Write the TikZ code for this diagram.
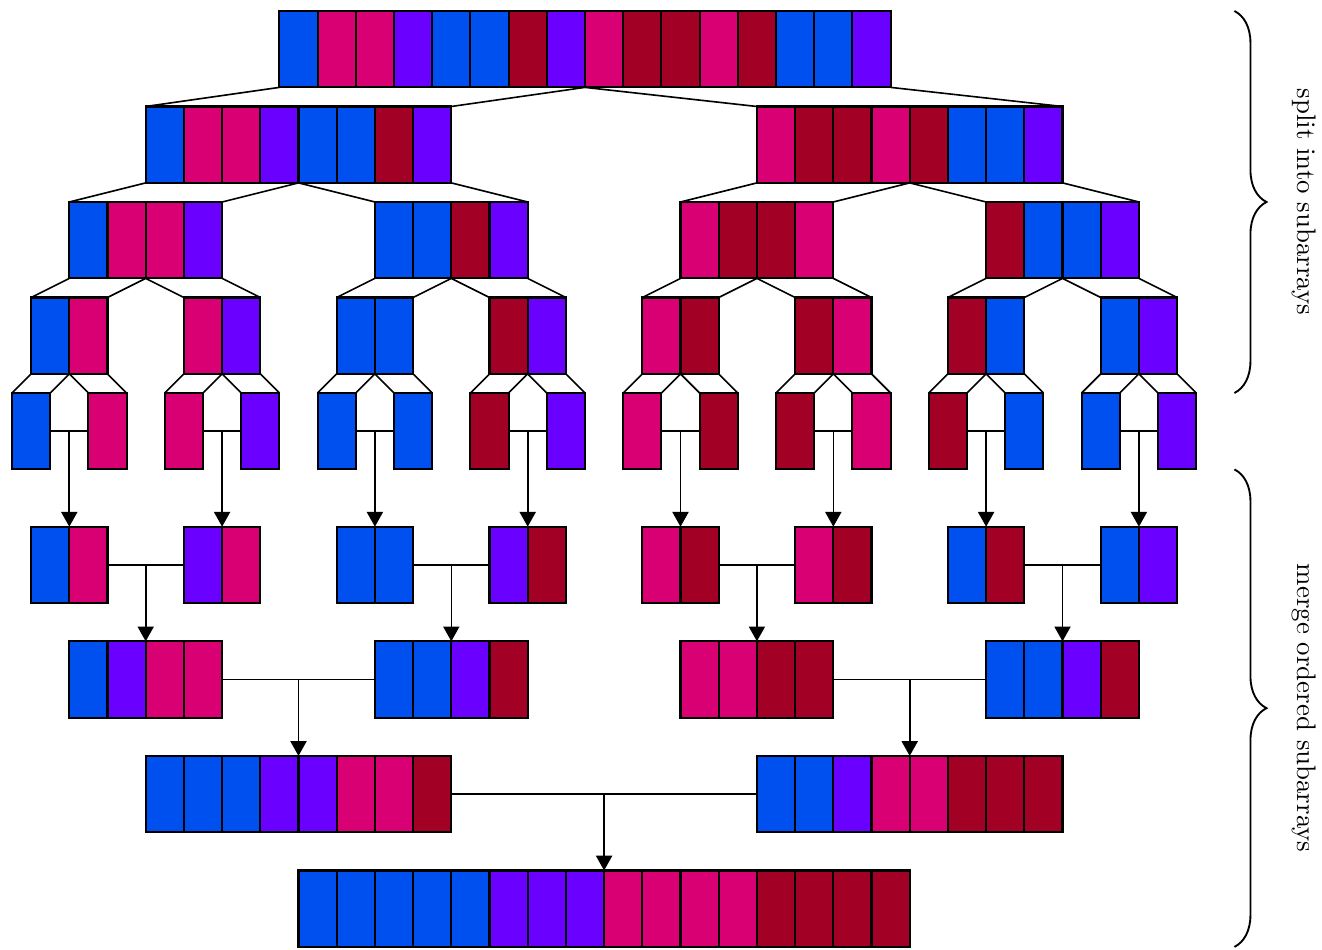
\documentclass[tikz,border=0pt]{standalone}
\usetikzlibrary{arrows.meta,decorations.pathreplacing}

\definecolor{cb}{HTML}{0050EF}
\definecolor{cm}{HTML}{D80073}
\definecolor{cv}{HTML}{6A00FF}
\definecolor{cr}{HTML}{A20025}

\tikzset{
  arrbox/.style={inner sep=0pt,outer sep=0pt,minimum height=1cm,anchor=north west},
  cellbox/.style={draw,line width=0.8pt},
  link/.style={line width=0.6pt},
  mergearrow/.style={link,-{Triangle[width=6pt,length=5.5pt]}},
  bracket/.style={decorate,decoration={brace,amplitude=0.42cm},line width=0.7pt},
  lbl/.style={rotate=-90,anchor=center}
}

% name, left x, top y, number of cells, colours
\newcommand{\arr}[5]{%
  \node[arrbox,minimum width=#4*5mm] (#1) at (#2,#3) {};
  \foreach \col [count=\k from 0] in {#5}
    \draw[cellbox,fill=\col] (#2+\k,#3) rectangle ++(1,-2);
}

\begin{document}
\begin{tikzpicture}[x=0.5cm,y=0.5cm]
\useasboundingbox (-0.314,0.288) rectangle (34.293,-24.555);

% split
\arr{s1-1}{7}{0}{16}{cb,cm,cm,cv,cb,cb,cr,cv,cm,cr,cr,cm,cr,cb,cb,cv}
\arr{s2-1}{3.5}{-2.5}{8}{cb,cm,cm,cv,cb,cb,cr,cv}
\arr{s2-2}{19.5}{-2.5}{8}{cm,cr,cr,cm,cr,cb,cb,cv}
\arr{s3-1}{1.5}{-5}{4}{cb,cm,cm,cv}
\arr{s3-2}{9.5}{-5}{4}{cb,cb,cr,cv}
\arr{s3-3}{17.5}{-5}{4}{cm,cr,cr,cm}
\arr{s3-4}{25.5}{-5}{4}{cr,cb,cb,cv}
\arr{s4-1}{0.5}{-7.5}{2}{cb,cm}
\arr{s4-2}{4.5}{-7.5}{2}{cm,cv}
\arr{s4-3}{8.5}{-7.5}{2}{cb,cb}
\arr{s4-4}{12.5}{-7.5}{2}{cr,cv}
\arr{s4-5}{16.5}{-7.5}{2}{cm,cr}
\arr{s4-6}{20.5}{-7.5}{2}{cr,cm}
\arr{s4-7}{24.5}{-7.5}{2}{cr,cb}
\arr{s4-8}{28.5}{-7.5}{2}{cb,cv}
\foreach \c [count=\i] in {cb,cm,cm,cv,cb,cb,cr,cv,cm,cr,cr,cm,cr,cb,cb,cv}{
  \arr{s5-\i}{2*\i-2}{-10}{1}{\c}
}

% merge
\arr{m1-1}{0.5}{-13.5}{2}{cb,cm}
\arr{m1-2}{4.5}{-13.5}{2}{cv,cm}
\arr{m1-3}{8.5}{-13.5}{2}{cb,cb}
\arr{m1-4}{12.5}{-13.5}{2}{cv,cr}
\arr{m1-5}{16.5}{-13.5}{2}{cm,cr}
\arr{m1-6}{20.5}{-13.5}{2}{cm,cr}
\arr{m1-7}{24.5}{-13.5}{2}{cb,cr}
\arr{m1-8}{28.5}{-13.5}{2}{cb,cv}
\arr{m2-1}{1.5}{-16.5}{4}{cb,cv,cm,cm}
\arr{m2-2}{9.5}{-16.5}{4}{cb,cb,cv,cr}
\arr{m2-3}{17.5}{-16.5}{4}{cm,cm,cr,cr}
\arr{m2-4}{25.5}{-16.5}{4}{cb,cb,cv,cr}
\arr{m3-1}{3.5}{-19.5}{8}{cb,cb,cb,cv,cv,cm,cm,cr}
\arr{m3-2}{19.5}{-19.5}{8}{cb,cb,cv,cm,cm,cr,cr,cr}
\arr{m4-1}{7.5}{-22.5}{16}{cb,cb,cb,cb,cb,cv,cv,cv,cm,cm,cm,cm,cr,cr,cr,cr}

% split lines
\foreach \up/\lo/\n in {s1/s2/1,s2/s3/2,s3/s4/4,s4/s5/8}
  \foreach \i in {1,...,\n}{
    \pgfmathtruncatemacro\a{2*\i-1}
    \pgfmathtruncatemacro\b{2*\i}
    \draw[link] (\up-\i.south west) -- (\lo-\a.north west)
      (\up-\i.south) -- (\lo-\a.north east)
      (\up-\i.south) -- (\lo-\b.north west)
      (\up-\i.south east) -- (\lo-\b.north east);
  }

% merge lines
\foreach \lo/\up/\n in {s5/m1/8,m1/m2/4,m2/m3/2,m3/m4/1}
  \foreach \i in {1,...,\n}{
    \pgfmathtruncatemacro\a{2*\i-1}
    \pgfmathtruncatemacro\b{2*\i}
    \draw[link] (\lo-\a.east) -- coordinate (\up-\i-in) (\lo-\b.west);
    \draw[mergearrow] (\up-\i-in) -- (\up-\i.north);
  }

% braces
\coordinate (sp-top) at (32,0);
\coordinate (sp-bot) at (32,-10);
\coordinate (mg-top) at (32,-12);
\coordinate (mg-bot) at (32,-24.5);
\draw[bracket] (sp-top) -- (sp-bot);
\draw[bracket] (mg-top) -- (mg-bot);
\node[lbl] (split) at (33.82,-5) {split into subarrays};
\node[lbl] (merge) at (33.82,-18.25) {merge ordered subarrays};
\end{tikzpicture}
\end{document}
